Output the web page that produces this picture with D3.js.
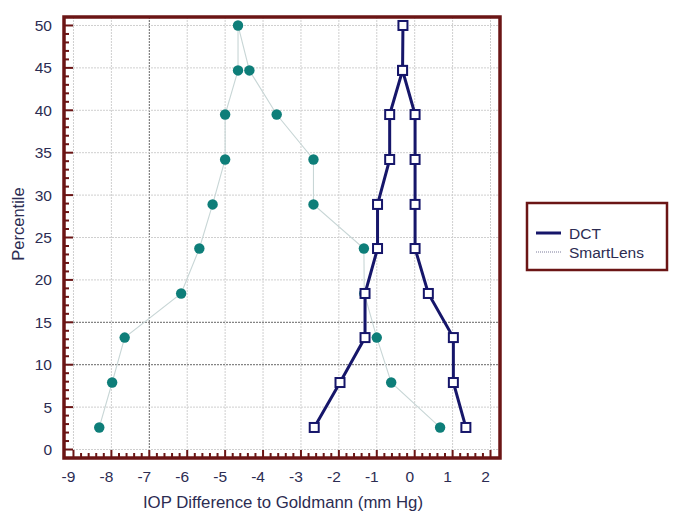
<!DOCTYPE html>
<html lang="en">
<head>
    <meta charset="UTF-8">
    <title>mountain plot</title>
    <script src="https://d3js.org/d3.v7.min.js"></script>
    <style>
        body {
            margin: 0;
            background: #fff;
        }
        text {
            font-family: "Liberation Sans", Arial, sans-serif;
            fill: #2c2c52;
        }
    </style>
</head>
<body>
    <div id="chart"></div>
    <script>
        // folded percentiles (mountain plot)
        const percentiles = [2.6, 7.9, 13.2, 18.4, 23.7, 28.9, 34.2, 39.5, 44.7, 50,
                             44.7, 39.5, 34.2, 28.9, 23.7, 18.4, 13.2, 7.9, 2.6];
        const dctValues = [-2.65, -1.97, -1.31, -1.31, -0.98, -0.98, -0.66, -0.66, -0.32, -0.31,
                           -0.32, 0.01, 0.01, 0.01, 0.01, 0.36, 1.02, 1.02, 1.35];
        const smartLensValues = [-8.32, -7.98, -7.65, -6.16, -5.68, -5.33, -5.0, -5.0, -4.66, -4.66,
                                 -4.36, -3.64, -2.67, -2.67, -1.34, -1.33, -1.0, -0.62, 0.67];
        const xTicks = [-9, -8, -7, -6, -5, -4, -3, -2, -1, 0, 1, 2];
        const yTicks = [0, 5, 10, 15, 20, 25, 30, 35, 40, 45, 50];
        const seriesNames = ["DCT", "SmartLens"];

        const width = 685;
        const height = 520;
        const plot = { left: 64, right: 500, top: 17, bottom: 458 };
        const frameColor = "#6b1515";
        const navy = "#16166a";
        const teal = "#0e7e79";

        const svg = d3.select("#chart")
            .append("svg")
            .attr("width", width)
            .attr("height", height);

        const x = d3.scaleLinear().domain([-9.25, 2.25]).range([plot.left, plot.right]);
        const y = d3.scaleLinear().domain([-1, 51]).range([plot.bottom, plot.top]);

        // grid lines (a few of them come out darker in the original)
        const darkX = [-7];
        const darkY = [10, 15];
        svg.append("g").selectAll("line")
            .data(xTicks)
            .enter()
            .append("line")
            .attr("x1", d => x(d)).attr("x2", d => x(d))
            .attr("y1", plot.top).attr("y2", plot.bottom)
            .attr("stroke", d => darkX.includes(d) ? "#666" : "#cfcfcf")
            .attr("stroke-width", 1)
            .attr("stroke-dasharray", "2,1");

        svg.append("g").selectAll("line")
            .data(yTicks)
            .enter()
            .append("line")
            .attr("x1", plot.left).attr("x2", plot.right)
            .attr("y1", d => y(d)).attr("y2", d => y(d))
            .attr("stroke", d => darkY.includes(d) ? "#666" : "#cfcfcf")
            .attr("stroke-width", 1)
            .attr("stroke-dasharray", "2,1");

        // minor / major ticks pointing inwards
        const xMinor = d3.range(-45, 11).map(i => i / 5);
        svg.append("g").selectAll("line")
            .data(xMinor)
            .enter()
            .append("line")
            .attr("x1", d => x(d)).attr("x2", d => x(d))
            .attr("y1", plot.bottom)
            .attr("y2", d => plot.bottom - (Math.abs(d - Math.round(d)) < 1e-6 ? 8 : 5))
            .attr("stroke", frameColor)
            .attr("stroke-width", 2);

        const yMinor = d3.range(0, 51);
        svg.append("g").selectAll("line")
            .data(yMinor)
            .enter()
            .append("line")
            .attr("x1", plot.left)
            .attr("x2", d => plot.left + (d % 5 === 0 ? 9 : 5))
            .attr("y1", d => y(d)).attr("y2", d => y(d))
            .attr("stroke", frameColor)
            .attr("stroke-width", 2);

        // frame
        svg.append("rect")
            .attr("x", plot.left).attr("y", plot.top)
            .attr("width", plot.right - plot.left)
            .attr("height", plot.bottom - plot.top)
            .attr("fill", "none")
            .attr("stroke", frameColor)
            .attr("stroke-width", 3.5);

        // tick labels
        svg.append("g").selectAll("text")
            .data(xTicks)
            .enter()
            .append("text")
            .attr("x", d => x(d) - 5)
            .attr("y", 482)
            .style("text-anchor", "middle")
            .style("font-size", "15.5px")
            .text(d => d);

        svg.append("g").selectAll("text")
            .data(yTicks)
            .enter()
            .append("text")
            .attr("x", 52)
            .attr("y", d => y(d))
            .attr("dy", "0.36em")
            .style("text-anchor", "end")
            .style("font-size", "15.5px")
            .text(d => d);

        // axis titles
        svg.append("text")
            .attr("x", 283)
            .attr("y", 508)
            .style("text-anchor", "middle")
            .style("font-size", "16.8px")
            .text("IOP Difference to Goldmann (mm Hg)");

        svg.append("text")
            .attr("transform", "translate(24,224) rotate(-90)")
            .style("text-anchor", "middle")
            .style("font-size", "16.5px")
            .text("Percentile");

        const smartData = smartLensValues.map((v, i) => ({ v: v, p: percentiles[i] }));
        const dctData = dctValues.map((v, i) => ({ v: v, p: percentiles[i] }));
        const line = d3.line().x(d => x(d.v)).y(d => y(d.p));

        // SmartLens: thin light line + teal dots
        svg.append("path")
            .datum(smartData)
            .attr("d", line)
            .attr("fill", "none")
            .attr("stroke", "#c8d6d6")
            .attr("stroke-width", 1.1);

        svg.append("g").selectAll("circle")
            .data(smartData)
            .enter()
            .append("circle")
            .attr("cx", d => x(d.v))
            .attr("cy", d => y(d.p))
            .attr("r", 5.2)
            .attr("fill", teal);

        // DCT: navy line + open squares
        svg.append("path")
            .datum(dctData)
            .attr("d", line)
            .attr("fill", "none")
            .attr("stroke", navy)
            .attr("stroke-width", 3);

        svg.append("g").selectAll("rect")
            .data(dctData)
            .enter()
            .append("rect")
            .attr("x", d => x(d.v) - 4.5)
            .attr("y", d => y(d.p) - 4.5)
            .attr("width", 9)
            .attr("height", 9)
            .attr("fill", "#fff")
            .attr("stroke", navy)
            .attr("stroke-width", 2);

        // legend
        const legend = svg.append("g");
        legend.append("rect")
            .attr("x", 527).attr("y", 203)
            .attr("width", 140).attr("height", 67)
            .attr("fill", "#fff")
            .attr("stroke", frameColor)
            .attr("stroke-width", 2.5);

        const legendItems = legend.selectAll(".legend-item")
            .data(seriesNames)
            .enter()
            .append("g")
            .attr("class", "legend-item")
            .attr("transform", (d, i) => `translate(0, ${233 + i * 19})`);

        legendItems.append("line")
            .attr("x1", 536).attr("x2", 561)
            .attr("stroke", (d, i) => i === 0 ? navy : "#7a7a9a")
            .attr("stroke-width", (d, i) => i === 0 ? 3 : 1)
            .attr("stroke-dasharray", (d, i) => i === 0 ? null : "1,1");

        legendItems.append("text")
            .attr("x", 569)
            .attr("dy", "0.36em")
            .style("font-size", "15.5px")
            .text(d => d);
    </script>
</body>
</html>
